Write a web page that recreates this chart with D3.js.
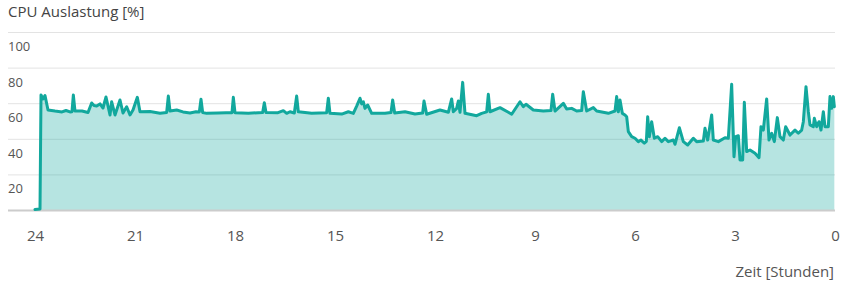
<!DOCTYPE html>
<html>
<head>
<meta charset="utf-8">
<script src="https://cdn.jsdelivr.net/npm/d3@7"></script>
<style>
  body { margin: 0; background: #fff; }
  svg { display: block; font-family: "Open Sans", sans-serif; }
</style>
</head>
<body>
<svg id="chart" width="849" height="294"></svg>
<script>
// hours ago (24 -> 0) and cpu load in percent
const hours_ago = [
  24.0, 23.85, 23.82, 23.76, 23.7, 23.61, 23.4, 23.19, 23.07, 22.95, 22.89, 22.85, 22.8, 22.59, 22.41,
  22.3, 22.23, 22.15, 22.05, 21.96, 21.87, 21.75, 21.7, 21.6, 21.45, 21.36, 21.25, 21.15, 21.06, 20.93,
  20.85, 20.55, 20.25, 20.05, 20.0, 19.95, 19.75, 19.56, 19.35, 19.17, 19.07, 19.02, 18.97, 18.85, 18.51,
  18.27, 18.09, 18.05, 18.0, 17.6, 17.17, 17.12, 17.07, 16.71, 16.55, 16.45, 16.35, 16.22, 16.15, 16.1,
  15.7, 15.25, 15.2, 15.15, 14.8, 14.6, 14.45, 14.35, 14.25, 14.2, 14.15, 14.1, 14.02, 13.9, 13.5,
  13.32, 13.27, 13.21, 12.9, 12.6, 12.37, 12.33, 12.25, 11.85, 11.6, 11.5, 11.45, 11.35, 11.3, 11.25,
  11.17, 11.1, 10.75, 10.6, 10.45, 10.4, 10.35, 10.05, 9.8, 9.7, 9.45, 9.35, 9.27, 9.05, 8.75,
  8.52, 8.47, 8.4, 8.15, 8.05, 7.9, 7.75, 7.6, 7.55, 7.45, 7.25, 7.15, 6.8, 6.6, 6.55,
  6.5, 6.45, 6.38, 6.3, 6.25, 6.2, 6.1, 6.0, 5.9, 5.82, 5.72, 5.66, 5.62, 5.57, 5.5,
  5.42, 5.32, 5.2, 5.1, 5.0, 4.85, 4.8, 4.67, 4.55, 4.42, 4.25, 4.15, 3.95, 3.9, 3.82,
  3.7, 3.65, 3.5, 3.3, 3.2, 3.1, 3.03, 2.98, 2.9, 2.85, 2.77, 2.72, 2.65, 2.55, 2.4,
  2.28, 2.22, 2.15, 2.05, 1.98, 1.9, 1.82, 1.73, 1.65, 1.55, 1.48, 1.35, 1.2, 1.1, 1.0,
  0.95, 0.87, 0.8, 0.75, 0.65, 0.62, 0.55, 0.48, 0.42, 0.35, 0.3, 0.2, 0.15, 0.1, 0.05,
  0.02
];
const cpu_load = [
  0.3, 0.6, 64.6, 62.4, 64.3, 56.2, 55.6, 55.1, 55.9, 55.1, 55.2, 64.6, 55.6, 55.6, 54.8,
  60.1, 58.7, 58.4, 59.6, 57.3, 63.5, 53.4, 60.8, 53.4, 61.8, 54.5, 58.0, 53.4, 56.2, 63.3,
  55.2, 55.3, 54.3, 54.8, 64.0, 55.6, 56.2, 55.1, 54.5, 55.2, 55.1, 62.2, 54.8, 54.3, 54.5,
  54.7, 54.7, 63.3, 54.7, 54.3, 54.8, 60.3, 54.8, 54.7, 55.8, 54.3, 55.2, 54.5, 64.0, 55.2,
  54.3, 54.7, 62.8, 54.3, 53.9, 55.2, 54.3, 58.4, 62.8, 59.6, 60.8, 57.1, 59.0, 54.3, 54.3,
  54.8, 61.8, 54.5, 55.2, 53.9, 54.5, 61.2, 53.8, 56.2, 54.9, 62.4, 55.2, 57.1, 61.2, 54.9,
  71.7, 54.3, 53.0, 54.3, 55.1, 65.0, 55.2, 57.5, 54.9, 53.8, 60.8, 58.0, 59.4, 56.2, 55.6,
  55.9, 65.0, 55.6, 59.9, 56.7, 57.1, 55.6, 55.9, 66.5, 55.6, 57.5, 55.6, 54.3, 55.6, 63.7,
  55.2, 61.8, 54.3, 53.4, 52.4, 44.0, 41.2, 40.3, 38.4, 39.3, 37.5, 38.5, 52.4, 41.2, 49.6,
  40.3, 41.2, 38.4, 40.3, 38.4, 39.3, 36.9, 46.2, 38.4, 36.5, 40.3, 38.4, 38.8, 45.9, 39.3,
  53.4, 39.3, 38.4, 40.6, 40.3, 70.6, 29.9, 41.2, 41.7, 28.1, 28.1, 60.5, 32.8, 33.7, 31.9,
  29.4, 46.8, 44.9, 62.4, 39.3, 43.1, 38.4, 51.9, 41.2, 39.3, 46.8, 42.1, 44.9, 43.1, 44.9,
  49.6, 69.3, 55.2, 47.8, 46.8, 51.5, 46.8, 49.6, 44.9, 55.2, 46.8, 46.8, 63.7, 57.1, 63.7,
  58.0
];
const x_ticks = [24, 21, 18, 15, 12, 9, 6, 3, 0];
const y_ticks = [20, 40, 60, 80, 100];

const title_text = "CPU Auslastung [%]";
const x_title_text = "Zeit [Stunden]";

const teal = "#12a89d";

const svg = d3.select('#chart');
const left = 8, right = 835, plot_left = 35, top_y = 32, bottom_y = 210;

const x = d3.scaleLinear().domain([24, 0]).range([plot_left, right]);
const y = d3.scaleLinear().domain([0, 100]).range([bottom_y, top_y]);

const data = hours_ago.map((h, i) => ({ h: h, v: cpu_load[i] }));

// title
svg.append('text')
    .attr('x', left)
    .attr('y', 13)
    .attr('dominant-baseline', 'middle')
    .style('font-size', '15px')
    .style('fill', '#444')
    .text(title_text);

// y axis: gridlines across, labels sit under their line
const y_axis = d3.axisLeft(y)
    .tickValues(y_ticks)
    .tickSize(right - left)
    .tickPadding(0);

const y_g = svg.append('g')
    .attr('transform', 'translate(' + right + ',0)')
    .call(y_axis);
y_g.select('.domain').remove();
y_g.selectAll('.tick line')
    .style('stroke', '#e3e3e3')
    .style('stroke-width', 1);
y_g.selectAll('.tick text')
    .attr('x', left - right)
    .attr('dy', 15)
    .attr('text-anchor', 'start')
    .attr('dominant-baseline', 'middle')
    .style('font-family', '"Open Sans", sans-serif')
    .style('font-size', '13px')
    .style('fill', '#555');

// area + line
const area = d3.area()
    .x(d => x(d.h))
    .y0(y(0))
    .y1(d => y(d.v));

const line = d3.line()
    .x(d => x(d.h))
    .y(d => y(d.v));

svg.append('path')
    .datum(data)
    .attr('d', area)
    .style('fill', teal)
    .style('fill-opacity', 0.31)
    .style('stroke', 'none');

// baseline
svg.append('line')
    .attr('x1', left)
    .attr('x2', right)
    .attr('y1', bottom_y + 0.5)
    .attr('y2', bottom_y + 0.5)
    .style('stroke', '#cccccc')
    .style('stroke-width', 2);

svg.append('path')
    .datum(data)
    .attr('d', line)
    .style('fill', 'none')
    .style('stroke', teal)
    .style('stroke-width', 3)
    .style('stroke-linejoin', 'round')
    .style('stroke-linecap', 'round');

// x axis
const x_axis = d3.axisBottom(x)
    .tickValues(x_ticks)
    .tickSize(0)
    .tickPadding(0);

const x_g = svg.append('g')
    .attr('transform', 'translate(0,' + bottom_y + ')')
    .call(x_axis);
x_g.select('.domain').remove();
x_g.selectAll('.tick text')
    .attr('y', 27)
    .attr('dy', null)
    .attr('dominant-baseline', 'middle')
    .style('font-family', '"Open Sans", sans-serif')
    .style('font-size', '15px')
    .style('fill', '#555');

svg.append('text')
    .attr('x', right - 1)
    .attr('y', 273)
    .attr('text-anchor', 'end')
    .attr('dominant-baseline', 'middle')
    .style('font-size', '15px')
    .style('fill', '#555')
    .text(x_title_text);
</script>
</body>
</html>
